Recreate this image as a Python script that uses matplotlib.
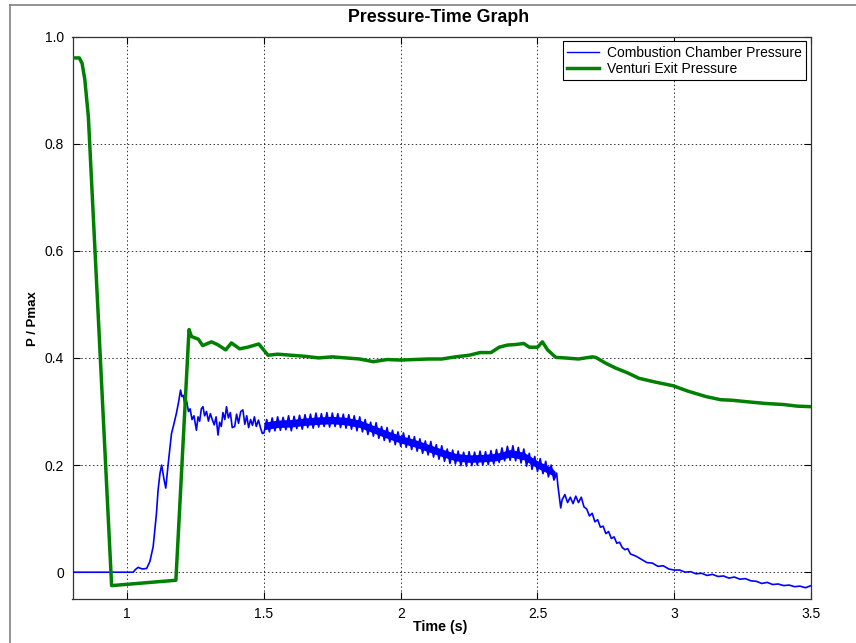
import matplotlib
matplotlib.use("Agg")
import matplotlib.pyplot as plt
from matplotlib.lines import Line2D

plt.rcParams['font.family'] = ['Liberation Sans', 'DejaVu Sans']

# Combustion chamber pressure (noisy trace)
cc_t = [0.80, 1.022, 1.030, 1.040, 1.055, 1.071, 1.083, 1.095, 1.107, 1.113, 1.120,
        1.126, 1.134, 1.141, 1.150, 1.162, 1.170, 1.180, 1.188, 1.195, 1.200, 1.205,
        1.211, 1.217, 1.224, 1.230, 1.237, 1.244, 1.253, 1.259, 1.265, 1.271, 1.277,
        1.283, 1.290, 1.297, 1.304, 1.311, 1.318, 1.325, 1.332, 1.338, 1.344, 1.350,
        1.357, 1.363, 1.370, 1.377, 1.384, 1.393, 1.400, 1.407, 1.415, 1.423, 1.430,
        1.437, 1.444, 1.451, 1.458, 1.465, 1.472, 1.480, 1.487, 1.494,
        1.50, 1.51, 1.52, 1.53, 1.54, 1.55, 1.56, 1.57, 1.58, 1.59,
        1.60, 1.61, 1.62, 1.63, 1.64, 1.65, 1.66, 1.67, 1.68, 1.69,
        1.70, 1.71, 1.72, 1.73, 1.74, 1.75, 1.76, 1.77, 1.78, 1.79,
        1.80, 1.81, 1.82, 1.83, 1.84, 1.85, 1.86, 1.87, 1.88, 1.89,
        1.90, 1.91, 1.92, 1.93, 1.94, 1.95, 1.96, 1.97, 1.98, 1.99,
        2.00, 2.01, 2.02, 2.03, 2.04, 2.05, 2.06, 2.07, 2.08, 2.09,
        2.10, 2.11, 2.12, 2.13, 2.14, 2.15, 2.16, 2.17, 2.18, 2.19,
        2.20, 2.21, 2.22, 2.23, 2.24, 2.25, 2.26, 2.27, 2.28, 2.29,
        2.30, 2.31, 2.32, 2.33, 2.34, 2.35, 2.36, 2.37, 2.38, 2.39,
        2.40, 2.41, 2.42, 2.43, 2.44, 2.45, 2.46, 2.47, 2.48, 2.49,
        2.50, 2.51, 2.52, 2.53, 2.54, 2.55, 2.56, 2.57, 2.575, 2.585,
        2.59, 2.60, 2.61, 2.62, 2.63, 2.64, 2.65, 2.66, 2.67, 2.68,
        2.69, 2.70, 2.71, 2.72, 2.73, 2.74, 2.75, 2.76, 2.77, 2.78,
        2.79, 2.80, 2.81, 2.82, 2.83, 2.84, 2.86, 2.88, 2.90, 2.92,
        2.94, 2.96, 2.98, 3.00, 3.02, 3.04, 3.06, 3.08, 3.10, 3.12,
        3.14, 3.16, 3.18, 3.20, 3.22, 3.24, 3.26, 3.28, 3.30, 3.32,
        3.34, 3.36, 3.38, 3.40, 3.42, 3.44, 3.46, 3.48, 3.50]
cc_p = [0.000, 0.000, 0.005, 0.009, 0.006, 0.007, 0.020, 0.048, 0.110, 0.154, 0.185,
        0.200, 0.175, 0.157, 0.203, 0.259, 0.275, 0.297, 0.318, 0.340, 0.328, 0.330,
        0.312, 0.320, 0.300, 0.305, 0.285, 0.292, 0.265, 0.290, 0.282, 0.305, 0.309,
        0.292, 0.300, 0.282, 0.296, 0.285, 0.275, 0.290, 0.256, 0.280, 0.272, 0.298,
        0.285, 0.309, 0.288, 0.298, 0.270, 0.272, 0.295, 0.278, 0.300, 0.303, 0.276,
        0.292, 0.270, 0.285, 0.274, 0.290, 0.272, 0.284, 0.270, 0.259,
        0.260, 0.285, 0.262, 0.288, 0.264, 0.290, 0.265, 0.289, 0.266, 0.292,
        0.264, 0.291, 0.268, 0.293, 0.267, 0.294, 0.270, 0.295, 0.269, 0.297,
        0.271, 0.296, 0.272, 0.298, 0.271, 0.297, 0.272, 0.296, 0.270, 0.295,
        0.269, 0.294, 0.267, 0.292, 0.264, 0.290, 0.262, 0.285, 0.257, 0.280,
        0.254, 0.279, 0.250, 0.272, 0.246, 0.270, 0.243, 0.265, 0.238, 0.262,
        0.235, 0.260, 0.233, 0.255, 0.229, 0.253, 0.226, 0.249, 0.222, 0.245,
        0.219, 0.244, 0.215, 0.238, 0.211, 0.236, 0.207, 0.230, 0.203, 0.228,
        0.202, 0.226, 0.199, 0.224, 0.198, 0.225, 0.199, 0.224, 0.200, 0.226,
        0.200, 0.225, 0.201, 0.227, 0.202, 0.229, 0.205, 0.232, 0.208, 0.235,
        0.209, 0.236, 0.208, 0.233, 0.204, 0.230, 0.198, 0.222, 0.192, 0.216,
        0.188, 0.212, 0.184, 0.207, 0.178, 0.200, 0.172, 0.185, 0.160, 0.120,
        0.135, 0.145, 0.130, 0.140, 0.128, 0.142, 0.130, 0.140, 0.122, 0.118,
        0.105, 0.110, 0.094, 0.098, 0.084, 0.086, 0.072, 0.076, 0.063, 0.066,
        0.054, 0.056, 0.046, 0.042, 0.044, 0.034, 0.030, 0.024, 0.018, 0.017,
        0.011, 0.012, 0.006, 0.004, 0.004, 0.000, 0.001, -0.003, -0.002, -0.006,
        -0.004, -0.008, -0.007, -0.011, -0.009, -0.013, -0.012, -0.016, -0.017, -0.021,
        -0.019, -0.023, -0.022, -0.025, -0.024, -0.027, -0.026, -0.029, -0.025]

# Dense part of the noisy combustion trace (lower / upper envelope of the solid core)
band_t = [1.50, 1.55, 1.60, 1.65, 1.70, 1.75, 1.80, 1.85, 1.90, 1.95,
          2.00, 2.05, 2.10, 2.15, 2.20, 2.25, 2.30, 2.35, 2.40, 2.45, 2.50, 2.55, 2.565]
band_lo = [0.266, 0.270, 0.271, 0.274, 0.276, 0.277, 0.275, 0.270, 0.260, 0.250,
           0.241, 0.234, 0.225, 0.216, 0.208, 0.205, 0.206, 0.208, 0.215, 0.210, 0.194, 0.182, 0.176]
band_hi = [0.280, 0.284, 0.285, 0.288, 0.290, 0.291, 0.289, 0.284, 0.274, 0.264,
           0.255, 0.248, 0.239, 0.230, 0.222, 0.219, 0.220, 0.222, 0.229, 0.224, 0.208, 0.196, 0.188]

# Venturi exit pressure
ve_t = [0.80, 0.825, 0.835, 0.845, 0.858, 0.943, 1.178, 1.226, 1.235, 1.26, 1.276,
        1.308, 1.33, 1.36, 1.381, 1.411, 1.44, 1.481, 1.515, 1.55, 1.60, 1.65,
        1.70, 1.75, 1.80, 1.85, 1.90, 1.95, 2.00, 2.05, 2.10, 2.15, 2.20, 2.25,
        2.29, 2.33, 2.36, 2.39, 2.42, 2.45, 2.47, 2.50, 2.518, 2.537, 2.567, 2.60,
        2.65, 2.70, 2.713, 2.75, 2.786, 2.83, 2.871, 2.93, 2.996, 3.05, 3.115,
        3.17, 3.212, 3.27, 3.334, 3.40, 3.45, 3.50]
ve_p = [0.960, 0.960, 0.950, 0.920, 0.850, -0.025, -0.015, 0.453, 0.440, 0.435, 0.423,
        0.430, 0.425, 0.415, 0.428, 0.417, 0.420, 0.426, 0.405, 0.407, 0.405, 0.403,
        0.400, 0.402, 0.400, 0.398, 0.393, 0.397, 0.396, 0.397, 0.398, 0.398, 0.402, 0.405,
        0.410, 0.410, 0.420, 0.424, 0.425, 0.427, 0.420, 0.420, 0.430, 0.415, 0.401, 0.400,
        0.398, 0.402, 0.401, 0.390, 0.381, 0.372, 0.362, 0.355, 0.348, 0.338, 0.328,
        0.322, 0.321, 0.318, 0.315, 0.313, 0.310, 0.309]

x_ticks = [1, 1.5, 2, 2.5, 3, 3.5]
x_labels = ['1', '1.5', '2', '2.5', '3', '3.5']
y_ticks = [0, 0.2, 0.4, 0.6, 0.8, 1.0]
y_labels = ['0', '0.2', '0.4', '0.6', '0.8', '1.0']

W, H = 856, 643
fig = plt.figure(figsize=(W / 100, H / 100), dpi=100)
fig.patch.set_facecolor('white')

# outer frame (top and left edges visible)
fig.add_artist(Line2D([10 / W, 10 / W], [0, 1 - 5 / H], transform=fig.transFigure,
                      color='#808080', lw=1.2))
fig.add_artist(Line2D([10 / W, 1], [1 - 5 / H, 1 - 5 / H], transform=fig.transFigure,
                      color='#808080', lw=1.2))

left, right, bottom, top = 72.5 / W, 811 / W, 1 - 599 / H, 1 - 36.5 / H
ax = fig.add_axes([left, bottom, right - left, top - bottom])

ax.fill_between(band_t, band_lo, band_hi, color='#0000ff', lw=0, zorder=3)
ax.plot(cc_t, cc_p, color='#0000ff', lw=1.2, zorder=3, label='Combustion Chamber Pressure')
ax.plot(ve_t, ve_p, color='#008000', lw=2.5, zorder=4, label='Venturi Exit Pressure',
        solid_joinstyle='round')

ax.set_xlim(0.8, 3.5)
ax.set_ylim(-0.05, 1.0)
ax.set_xticks(x_ticks)
ax.set_xticklabels(x_labels)
ax.set_yticks(y_ticks)
ax.set_yticklabels(y_labels)
ax.tick_params(direction='in', top=True, right=True, length=5, width=0.8,
               labelsize=10, colors='black', pad=6)
ax.grid(True, color='black', linestyle=(0, (1.5, 2.5)), linewidth=0.7, alpha=0.8)
for s in ax.spines.values():
    s.set_color('#333333')
    s.set_linewidth(0.9)

fig.text(439 / W, 1 - 17 / H, 'Pressure-Time Graph', ha='center',
         va='center', fontsize=12.8, fontweight='bold')
fig.text(440 / W, 1 - 627 / H, 'Time (s)', ha='center', va='center', fontsize=10.3,
         fontweight='bold')
fig.text(33 / W, 1 - 319 / H, 'P / Pmax', ha='center', va='center', fontsize=9.5,
         fontweight='bold', rotation=90)

leg = ax.legend(loc='upper right', fontsize=10, frameon=True, fancybox=False,
                edgecolor='black', framealpha=1, borderaxespad=0.35,
                handlelength=2.3, borderpad=0.3, labelspacing=0.15, handletextpad=0.6)
leg.get_frame().set_linewidth(0.8)
leg.get_lines()[0].set_linewidth(1.0)

fig.savefig('out.png', dpi=100)
